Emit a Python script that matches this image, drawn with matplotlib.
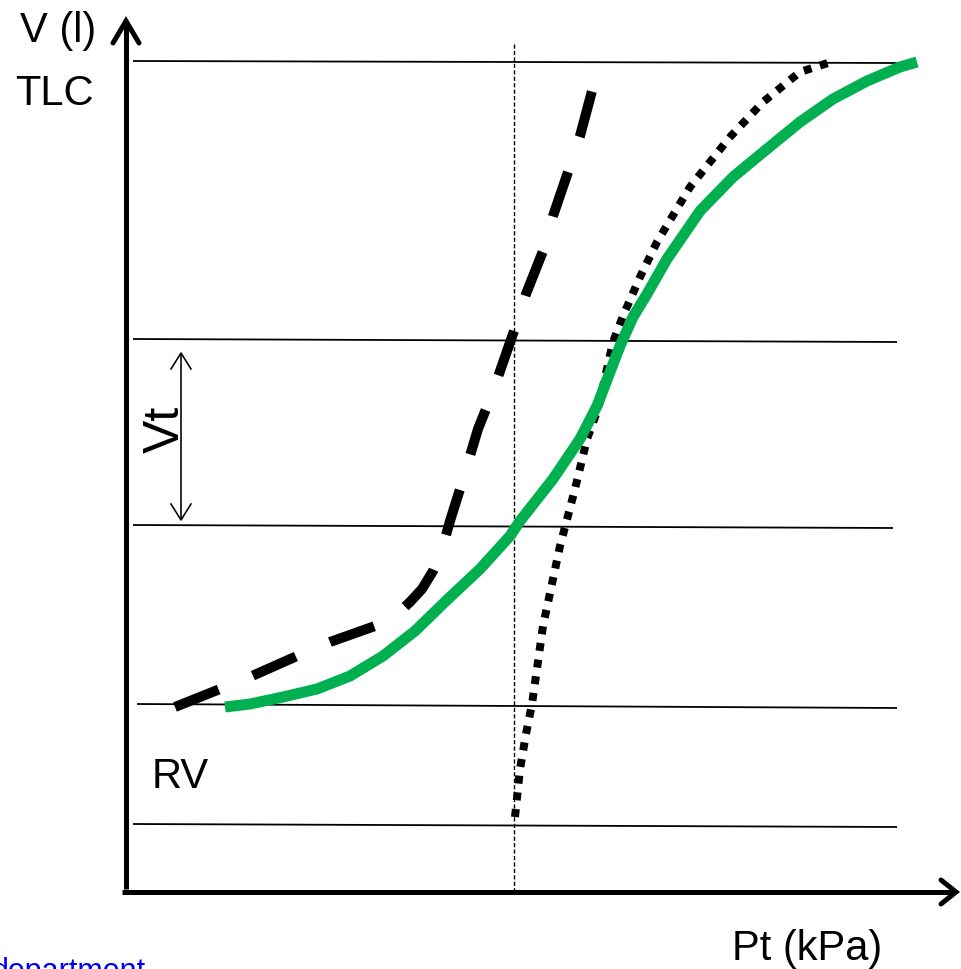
import matplotlib

matplotlib.use("Agg")
import matplotlib.pyplot as plt

# diagram drawn in picture coordinates (x right, y down), 962 x 970
W, H = 962, 970
GREEN = "#00B050"

# lung pressure-volume curves
dashed_x = [175, 220, 252, 297, 330, 375, 395, 410, 422, 433, 442, 450, 460, 478, 490,
            499, 514, 526, 543, 553, 568, 580, 592]
dashed_y = [708, 690, 677, 657, 643, 627, 617, 603, 590, 572, 550, 522, 490, 430, 400,
            375, 332, 295, 252, 217, 173, 137, 92]

dotted_x = [515, 520, 526, 532, 543, 560, 575, 587, 598, 613, 623, 640, 657, 690, 730, 763, 800, 828]
dotted_y = [818, 770, 735, 705, 627, 547, 490, 440, 410, 343, 317, 278, 243, 188, 138, 103, 73, 64]

green_x = [225, 250, 283, 317, 350, 383, 415, 448, 480, 510, 520, 553, 580, 597, 610, 620, 633,
           647, 667, 700, 733, 767, 800, 833, 867, 900, 917]
green_y = [708, 705, 698, 690, 677, 657, 632, 600, 570, 537, 522, 480, 440, 407, 373, 347, 318,
           295, 260, 212, 178, 150, 123, 100, 82, 68, 63]

# horizontal reference levels: (x0, y0, x1, y1)
levels = [
    (133, 62, 897, 64),
    (133, 340, 897, 343),
    (133, 526, 893, 529),
    (137, 705, 897, 709),
    (133, 825, 897, 828),
]
mid_x = 514

# axis geometry
y_axis = ([126, 126], [890, 24])
x_axis = ([122, 953], [893, 893])
vt_top, vt_bottom, vt_x = 354, 521, 181


def px(v):
    return v * 72 / 100


fig = plt.figure(figsize=(W / 100, H / 100), dpi=100)
ax = fig.add_axes([0, 0, 1, 1])
ax.set_xlim(0, W)
ax.set_ylim(H, 0)
ax.axis("off")

for x0, y0, x1, y1 in levels:
    ax.plot([x0, x1], [y0, y1], color="black", lw=px(1.8), solid_capstyle="butt")

ax.plot([mid_x, mid_x], [45, 893], color="black", lw=px(1.4), dashes=(3, 1.6))

# axes with open arrow heads
ax.plot(*y_axis, color="black", lw=px(5), solid_capstyle="butt")
ax.plot([113, 126, 139], [44, 22, 44], color="black", lw=px(5), solid_joinstyle="miter",
        solid_capstyle="round")
ax.plot(*x_axis, color="black", lw=px(5), solid_capstyle="butt")
ax.plot([941, 956, 941], [881, 893, 905], color="black", lw=px(5), solid_joinstyle="miter",
        solid_capstyle="round")

ax.plot(dashed_x, dashed_y, color="black", lw=px(10), dashes=(4.7, 3.7),
        dash_capstyle="butt", dash_joinstyle="round")
ax.plot(dotted_x, dotted_y, color="black", lw=px(8), dashes=(1, 1.1), dash_capstyle="butt")
ax.plot(green_x, green_y, color=GREEN, lw=px(11), solid_capstyle="butt",
        solid_joinstyle="round")

# tidal volume double arrow
ax.plot([vt_x, vt_x], [vt_top + 1, vt_bottom - 1], color="black", lw=px(1.6))
for tip, d in ((vt_top, 1), (vt_bottom, -1)):
    ax.plot([vt_x - 10, vt_x, vt_x + 10], [tip + 16 * d, tip, tip + 16 * d],
            color="black", lw=px(1.6))

font = dict(family=["Liberation Sans", "DejaVu Sans"], color="black")
ax.text(20, 42, "V (l)", fontsize=30, va="baseline", ha="left", **font)
ax.text(15, 105, "TLC", fontsize=30, va="baseline", ha="left", **font)
ax.text(152, 788, "RV", fontsize=30, va="baseline", ha="left", **font)
ax.text(732, 960, "Pt (kPa)", fontsize=30, va="baseline", ha="left", **font)
ax.text(179, 429, "Vt", fontsize=36, rotation=90, rotation_mode="anchor",
        ha="center", va="baseline", **font)
ax.text(-8, 957, "department", fontsize=22, va="top", ha="left",
        family=["Liberation Sans", "DejaVu Sans"], color="#0000EE")

fig.savefig("out.png", dpi=100)
plt.close(fig)
